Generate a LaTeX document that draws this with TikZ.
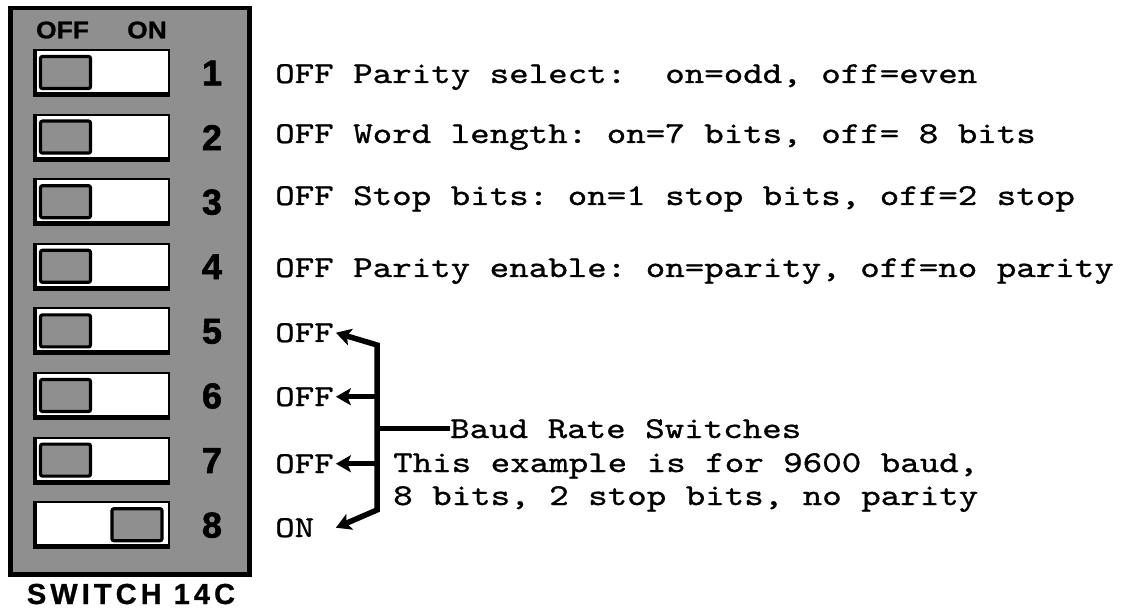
\documentclass[tikz,border=0pt]{standalone}
\usepackage{fontspec}
\usetikzlibrary{arrows.meta}
% typewriter face for the settings text, bold grotesque for the switch panel
\newfontfamily\typew{lmmono10-regular.otf}[FakeStretch=1.226,FakeBold=0.9]
\newfontfamily\heavysans{Liberation Sans}[FakeBold=1.6]
\newfontfamily\widesans{Liberation Sans}[FakeStretch=1.1,FakeBold=1]
\newfontfamily\spacedsans{Liberation Sans}[LetterSpace=14,FakeBold=0.8]
\definecolor{halftone}{gray}{0.56}

\begin{document}
\begin{tikzpicture}[x=1pt,y=-1pt,
  >={Stealth[length=15pt,width=17pt,inset=3.5pt]},
  panel/.style={draw=black,line width=4.5pt,fill=halftone},
  slotshade/.style={fill=black,inner sep=0pt,minimum width=137pt,minimum height=48pt},
  slotface/.style={fill=white,inner sep=0pt,minimum width=131pt,minimum height=41pt},
  knob/.style={draw=black,line width=3.2pt,fill=halftone,rounded corners=2pt,
    inner sep=0pt,minimum width=50pt,minimum height=32pt},
  num/.style={font=\heavysans\bfseries\fontsize{36}{36}\selectfont,inner sep=0pt},
  head/.style={font=\widesans\bfseries\fontsize{24}{24}\selectfont,inner sep=0pt},
  desc/.style={font=\typew\fontsize{30.3}{34}\selectfont\frenchspacing,
    inner sep=0pt,anchor=base west},
  bracket/.style={line width=5.5pt,line join=miter},
]
\useasboundingbox (0,0) rectangle (1124,609);

% switch housing
\draw[panel] (10.5,8) rectangle (249.5,574.5);
\node[head] (hoff) at (62.5,30) {OFF};
\node[head] (hon) at (147,30) {ON};

% the eight slide switches
\foreach \n in {1,...,8} {
  \pgfmathsetmacro\cy{73+64.6*(\n-1)}
  \node[slotshade] (sh\n) at (101.5,\cy) {};
  \node[slotface] (sl\n) at (102.5,\cy-1.5) {};
  \node[num] (n\n) at (212,\cy) {\n};
}
\foreach \n in {1,...,7} {
  \pgfmathsetmacro\cy{73+64.6*(\n-1)}
  \node[knob] (k\n) at (65.5,\cy-0.5) {};
}
\node[knob] (k8) at (137,524.7) {};

\node[font=\spacedsans\bfseries\fontsize{29}{29}\selectfont,inner sep=0pt,anchor=base]
  (title) at (131,604) {SWITCH 14C};

% settings of switches 1-4
\node[desc] (d1) at (275,83) {OFF Parity select:~~on=odd, off=even};
\node[desc] (d2) at (275,143) {OFF Word length: on=7 bits, off= 8 bits};
\node[desc] (d3) at (275,205) {OFF Stop bits: on=1 stop bits, off=2 stop};
\node[desc] (d4) at (275,277) {OFF Parity enable: on=parity, off=no parity};

% baud rate switches 5-8
\node[desc] (l5) at (275,342) {OFF\kern2pt};
\node[desc] (l6) at (275,406) {OFF\kern2pt};
\node[desc] (l7) at (275,473) {OFF\kern2pt};
\node[desc] (l8) at (275,537) {ON\phantom{F}\kern2pt};

\node[desc] (baud) at (450,438) {Baud Rate Switches};
\node[desc] (ex1) at (393,472) {This example is for 9600 baud,};
\node[desc] (ex2) at (393,505) {8 bits, 2 stop bits, no parity};

\coordinate (bartop) at (377,345);
\coordinate (barbot) at (377,510);
\draw[bracket,<->] (l5.east) -- (bartop) -- (barbot) -- (l8.east);
\draw[bracket,->] (l6.east -| bartop) -- (l6.east);
\draw[bracket,->] (l7.east -| bartop) -- (l7.east);
\draw[line width=4.5pt] (baud.west -| bartop) -- (baud.west);
\end{tikzpicture}
\end{document}
